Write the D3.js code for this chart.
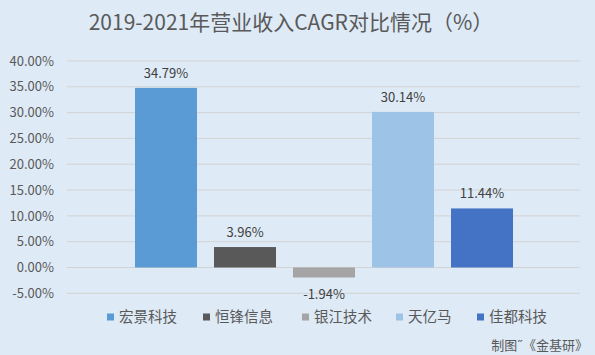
<!DOCTYPE html>
<html><head><meta charset="utf-8">
<script src="https://cdn.jsdelivr.net/npm/d3@7"></script>
<style>body{margin:0;background:#deeaf6;} svg{display:block;}</style>
</head><body>
<svg id="chart" width="595" height="355"></svg>
<script>
const title = "2019-2021年营业收入CAGR对比情况（%）";
const categories = ["宏景科技","恒锋信息","银江技术","天亿马","佳都科技"];
const values = [34.79, 3.96, -1.94, 30.14, 11.44];
const colors = ["#5b9bd5","#595959","#a5a5a5","#9dc3e6","#4472c4"];
const yTicks = [-5,0,5,10,15,20,25,30,35,40];
const source = "制图\u02dd《金基研》";

const svg = d3.select("#chart");
const font = "'Noto Sans CJK SC','Noto Sans',sans-serif";
const textColor = "#595959";
svg.append("rect").attr("width",595).attr("height",355).attr("fill","#deeaf6");

const y = d3.scaleLinear().domain([-5,40]).range([293.3,61]);
const x = d3.scaleBand().domain(categories).range([135,513]).paddingInner(17/79).paddingOuter(0);
const plotL = 67, plotR = 580;

svg.append("text").attr("x",291).attr("y",30).attr("text-anchor","middle")
  .attr("font-family",font).attr("font-size",21).attr("fill",textColor).text(title);

const yAxis = d3.axisLeft(y).tickValues(yTicks).tickSize(0).tickPadding(0)
  .tickFormat(d=>d.toFixed(2)+"%");
const g = svg.append("g").attr("transform",`translate(54,0)`).call(yAxis);
g.select(".domain").remove();
g.selectAll("text").attr("font-family",font).attr("font-size",13).attr("fill",textColor);

svg.append("g").selectAll("line").data(yTicks).join("line")
  .attr("x1",plotL).attr("x2",plotR).attr("y1",d=>y(d)).attr("y2",d=>y(d))
  .attr("stroke","#d3d3d3").attr("stroke-width",1);

svg.append("g").selectAll("rect").data(categories).join("rect")
  .attr("x",d=>x(d)).attr("width",x.bandwidth())
  .attr("y",(d,i)=>y(Math.max(0,values[i])))
  .attr("height",(d,i)=>Math.abs(y(values[i])-y(0)))
  .attr("fill",(d,i)=>colors[i]);

svg.append("g").selectAll("text").data(categories).join("text")
  .attr("x",d=>x(d)+x.bandwidth()/2)
  .attr("y",(d,i)=>values[i]>=0 ? y(values[i])-10 : y(values[i])+21)
  .attr("text-anchor","middle").attr("font-family",font).attr("font-size",13)
  .attr("fill","#404040").text((d,i)=>values[i].toFixed(2)+"%");

const legX = [107,203,302,396,477];
const leg = svg.append("g").selectAll("g").data(categories).join("g")
  .attr("transform",(d,i)=>`translate(${legX[i]},317)`);
leg.append("rect").attr("x",0).attr("y",-3.5).attr("width",7).attr("height",7).attr("fill",(d,i)=>colors[i]);
leg.append("text").attr("x",12).attr("y",0).attr("dy","0.35em").attr("font-family",font)
  .attr("font-size",14.5).attr("fill",textColor).text(d=>d);

svg.append("text").attr("x",588).attr("y",345).attr("dy","0.35em").attr("text-anchor","end")
  .attr("font-family",font).attr("font-size",13).attr("fill",textColor).text(source);
</script>
</body></html>
